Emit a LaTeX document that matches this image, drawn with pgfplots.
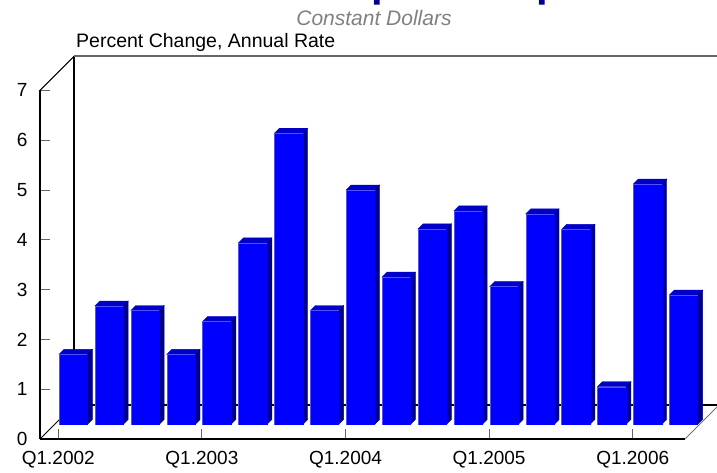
\documentclass[border=0pt]{standalone}
\usepackage{pgfplots}
\pgfplotsset{compat=1.18}
\usepackage{fontspec}
\setmainfont{Liberation Sans}
\definecolor{barfront}{HTML}{0000FF}
\definecolor{baredge}{HTML}{5050FF}
\definecolor{bartop}{HTML}{0000C8}
\definecolor{barside}{HTML}{000088}
\definecolor{titleblue}{HTML}{00008B}
\begin{document}
\begin{tikzpicture}
\path[use as bounding box] (0,0) rectangle (717pt,472pt);
% title (mostly above the visible area, as in the reference)
\node[anchor=base west, inner sep=0pt, text=titleblue, font=\fontsize{41.8}{48}\selectfont\bfseries] at (104pt,475.6pt) {Real Consumption Expenditures};
\node[anchor=base, inner sep=0pt, text=black!50, font=\itshape\fontsize{21}{26}\selectfont] at (374pt,446pt) {Constant Dollars};
\node[anchor=base west, inner sep=0pt, font=\fontsize{19.5}{23}\selectfont] at (76pt,424.7pt) {Percent Change, Annual Rate};
\begin{axis}[
  scale only axis,
  width=645pt, height=348.6pt,
  at={(40pt,33pt)}, anchor=south west,
  xmin=-0.51, xmax=17.457,
  ymin=0, ymax=7,
  axis x line*=bottom, axis y line*=left,
  axis line style={-, line width=1.2pt, black},
  xtick={0,4,8,12,16},
  xticklabels={Q1.2002,Q1.2003,Q1.2004,Q1.2005,Q1.2006},
  ytick={0,1,...,7},
  tick align=inside,
  major tick length=10pt,
  tick style={black!60, line width=1pt},
  tick label style={font=\fontsize{19}{22}\selectfont},
  /pgf/number format/assume math mode=true,
  yticklabel style={xshift=-9pt},
  xticklabel style={yshift=-9pt},
  clip=false,
]
% 3-D frame
\draw[black, line width=1pt] (rel axis cs:0,0) -- ++(34pt,34pt);
\draw[black, line width=1pt] (rel axis cs:0,1) -- ++(34pt,34pt);
\draw[black!55, line width=1pt] (rel axis cs:1,0) -- ++(34pt,34pt);
\draw[black, line width=1.8pt] ([shift={(34pt,34pt)}]rel axis cs:0,0) -- ([shift={(34pt,34pt)}]rel axis cs:0,1);
\draw[black!60, line width=2pt] ([shift={(34pt,34pt)}]rel axis cs:0,1) -- ([shift={(34pt,34pt)}]rel axis cs:1,1);
\draw[black, line width=1.2pt] ([shift={(34pt,34pt)}]rel axis cs:0,0) -- ([shift={(34pt,34pt)}]rel axis cs:1,0);
% bars
\addplot[
  only marks, scatter, mark=none,
  visualization depends on={\thisrow{v} \as \val},
  scatter/@pre marker code/.code={%
    \pgfmathsetmacro{\h}{\val*49.8-14.5}%
    \fill[bartop] (0.7pt,0pt) -- (5.7pt,5pt) -- (34pt,5pt) -- (29pt,0pt) -- cycle;
    \fill[barside] (29pt,0pt) -- (34pt,5pt) -- (34pt,5pt-\h pt) -- (29pt,-\h pt) -- cycle;
    \fill[barfront] (0.7pt,0pt) rectangle (29pt,-\h pt);
    \draw[baredge, line width=0.8pt] (0.9pt,-\h pt) -- (0.9pt,-0.2pt) -- (29pt,-0.2pt);
  },
  scatter/@post marker code/.code={},
] table {
x v
0 1.70
1 2.67
2 2.58
3 1.70
4 2.36
5 3.94
6 6.14
7 2.58
8 5.00
9 3.25
10 4.22
11 4.58
12 3.06
13 4.52
14 4.21
15 1.05
16 5.12
17 2.89
};
\end{axis}
\end{tikzpicture}
\end{document}
